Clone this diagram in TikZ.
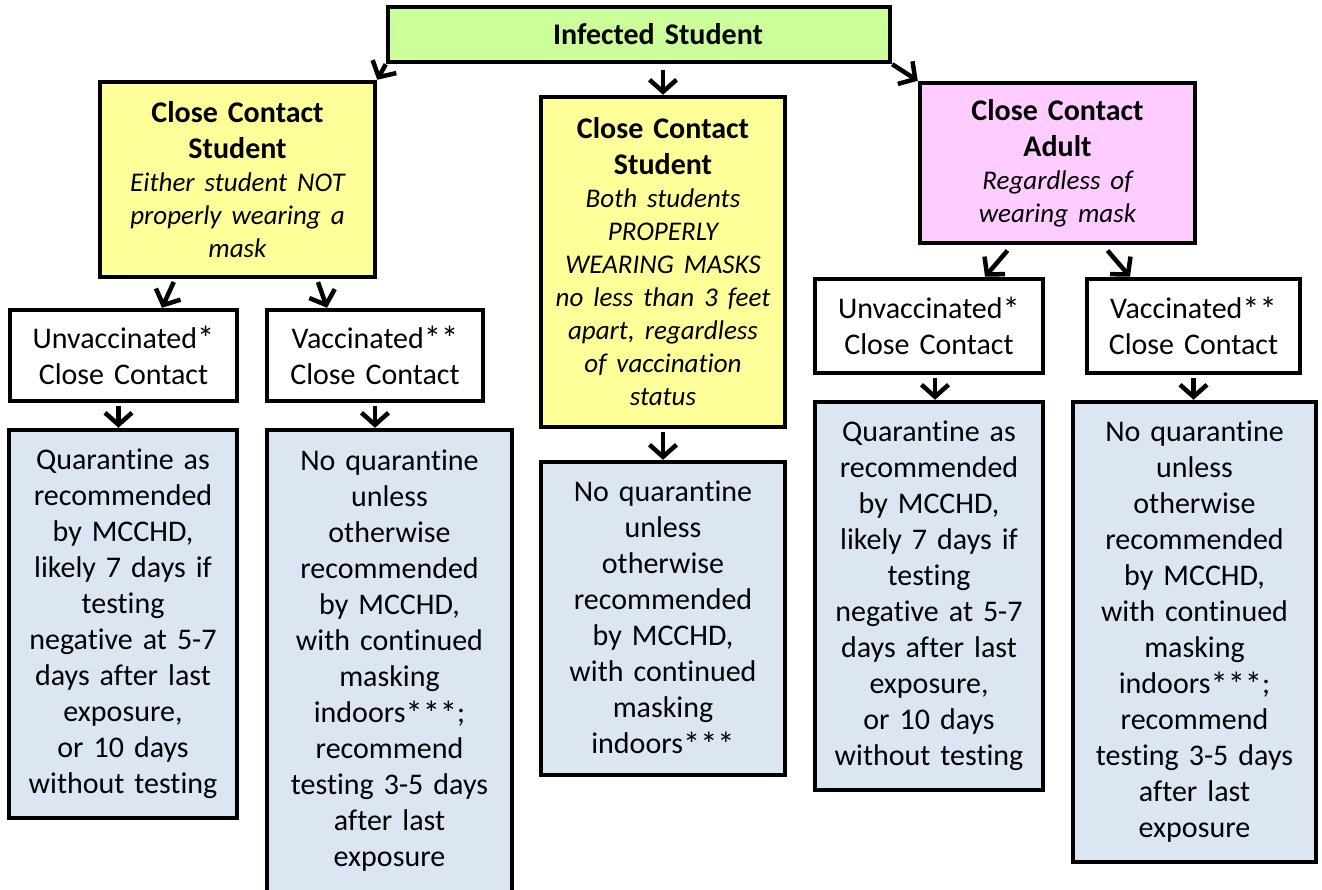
\documentclass[tikz,border=0pt]{standalone}
\usepackage{fontspec}
\setmainfont{Carlito}[Ligatures=NoCommon]
\usetikzlibrary{arrows.meta}
\definecolor{greenfill}{HTML}{CCFF99}
\definecolor{yellowfill}{HTML}{FFFF99}
\definecolor{pinkfill}{HTML}{FFCCFF}
\definecolor{bluefill}{HTML}{DCE6F2}
\newcommand{\subnote}{\itshape\fontsize{27}{33}\selectfont}
% a slightly larger footnote star
\newcommand{\fstar}{\raisebox{-0.08em}{\scalebox{1.15}{*}}}

\tikzset{
  box/.style={draw=black, line width=4.5pt, inner xsep=4pt, inner ysep=0pt,
    align=center, font=\fontsize{30}{36}\selectfont},
  arr/.style={line width=4.5pt, shorten <=3pt,
    -{Straight Barb[length=12pt,width=27pt]}},
}

\begin{document}
\begin{tikzpicture}[x=1pt,y=-1pt]
\useasboundingbox (0,0) rectangle (1322,889);
\clip (0,0) rectangle (1322,889);
\fill[white] (0,0) rectangle (1322,889);

% top node
\node[box, fill=greenfill, text width=494pt, minimum height=55pt] (inf) at (639,34.5)
  {\bfseries\hspace*{38pt}Infected Student};

% three kinds of close contact
\node[box, fill=yellowfill, text width=267pt, minimum height=195pt] (cs1) at (237.5,179.5)
  {{\bfseries Close Contact\\Student\par}{\subnote Either student NOT\\properly wearing a\\mask\par}};
\node[box, fill=yellowfill, text width=236pt, minimum height=330pt] (cs2) at (663,262)
  {{\bfseries Close Contact\\Student\par}{\subnote Both students\\PROPERLY\\WEARING MASKS\\no less than 3 feet\\apart, regardless\\of vaccination\\status\par}};
\node[box, fill=pinkfill, text width=267pt, minimum height=160pt] (adult) at (1057.5,163)
  {{\bfseries Close Contact\\Adult\par}{\subnote Regardless of\\wearing mask\par}};

% vaccination status
\node[box, fill=white, text width=219pt, minimum height=91pt] (w1) at (123.5,355.5)
  {Unvaccinated\fstar\\Close Contact};
\node[box, fill=white, text width=208pt, minimum height=91pt] (w2) at (375,355.5)
  {Vaccinated\fstar\fstar\\Close Contact};
\node[box, fill=white, text width=220pt, minimum height=94pt] (w3) at (929,326)
  {Unvaccinated\fstar\\Close Contact};
\node[box, fill=white, text width=205pt, minimum height=94pt] (w4) at (1193.5,326)
  {Vaccinated\fstar\fstar\\Close Contact};

% outcomes
\node[box, fill=bluefill, text width=220pt, minimum height=388pt] (b1) at (123,624)
  {Quarantine as\\recommended\\by MCCHD,\\likely 7 days if\\testing\\negative at 5-7\\days after last\\exposure,\\or 10 days\\without testing};
\node[box, fill=bluefill, text width=237pt, minimum height=462pt] (b2) at (389.5,661)
  {No quarantine\\unless\\otherwise\\recommended\\by MCCHD,\\with continued\\masking\\indoors\fstar\fstar\fstar;\\recommend\\testing 3-5 days\\after last\\exposure};
\node[box, fill=bluefill, text width=236pt, minimum height=313pt] (b3) at (663,618.5)
  {No quarantine\\unless\\otherwise\\recommended\\by MCCHD,\\with continued\\masking\\indoors\fstar\fstar\fstar};
\node[box, fill=bluefill, text width=220pt, minimum height=388pt] (b4) at (929,596)
  {Quarantine as\\recommended\\by MCCHD,\\likely 7 days if\\testing\\negative at 5-7\\days after last\\exposure,\\or 10 days\\without testing};
\node[box, fill=bluefill, text width=235pt, minimum height=460pt] (b5) at (1194.5,632)
  {No quarantine\\unless\\otherwise\\recommended\\by MCCHD,\\with continued\\masking\\indoors\fstar\fstar\fstar;\\recommend\\testing 3-5 days\\after last\\exposure};

% connectors
\draw[arr, shorten <=0pt] (inf.south west) -- (cs1.north east);
\draw[arr, shorten <=6pt] (inf.south -| cs2.north) -- (cs2.north);
\draw[arr, shorten <=0pt] (inf.south east) -- (adult.north west);

\draw[arr] ([xshift=-62.5pt]cs1.south) -- ([xshift=38.5pt]w1.north);
\draw[arr] ([xshift=79.5pt]cs1.south) -- ([xshift=-48pt]w2.north);
\draw[arr, shorten <=7pt] ([xshift=-45.5pt]adult.south) -- ([xshift=56pt]w3.north);
\draw[arr, shorten <=7pt] ([xshift=45.5pt]adult.south) -- ([xshift=-63.5pt]w4.north);

\draw[arr] ([xshift=-5pt]w1.south) -- ([xshift=-5pt]w1.south |- b1.north);
\draw[arr] (w2.south) -- (w2.south |- b2.north);
\draw[arr] (cs2.south) -- (b3.north);
\draw[arr] ([xshift=6pt]w3.south) -- ([xshift=6pt]w3.south |- b4.north);
\draw[arr] (w4.south) -- (w4.south |- b5.north);
\end{tikzpicture}
\end{document}
